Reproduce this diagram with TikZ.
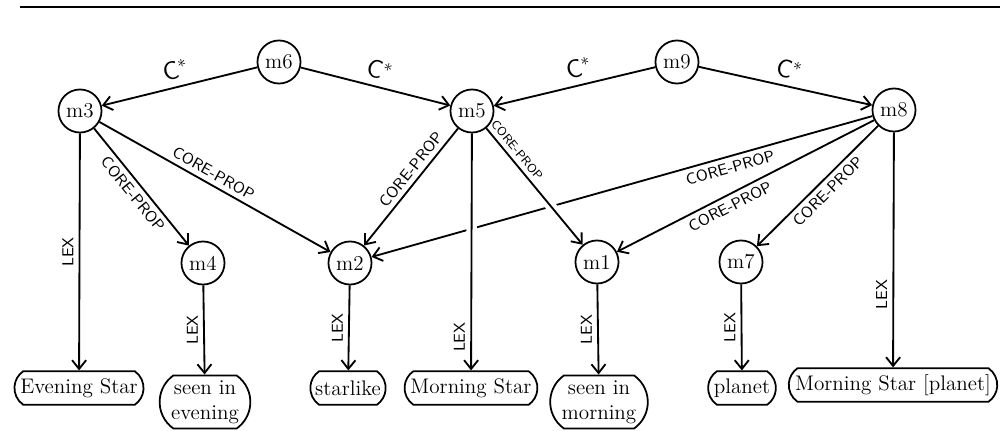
\documentclass[tikz,border=0pt]{standalone}
\usepackage{amsmath,amssymb}
\usetikzlibrary{arrows.meta,shapes.misc}

\begin{document}
\begin{tikzpicture}[x=0.2mm,y=-0.2mm,
mnode/.style={circle,draw,line width=1pt,minimum size=24.5pt,inner sep=1pt,font=\large},
lexbox/.style={rounded rectangle,rounded rectangle arc length=110,draw,line width=1pt,inner xsep=2pt,inner ysep=3pt,minimum height=19pt,font=\large,align=center},
link/.style={line width=1.05pt,-{Straight Barb[length=5pt,width=8pt]}},
rel/.style={font=\sffamily\small,sloped,inner sep=2.5pt},
lex/.style={font=\sffamily\small,rotate=90,anchor=south,inner sep=3pt},
cstar/.style={font=\sffamily\Large,sloped,above,inner sep=4pt},
crossover/.style={preaction={draw=white,-,line width=6pt,shorten <=5pt,shorten >=5pt}}]
\useasboundingbox (0,0) rectangle (1000,431);
\draw[line width=1.7pt] (20,7) -- (1000,7);
% concept nodes
\node[mnode] (m6) at (279,62) {m6};
\node[mnode] (m9) at (677,62) {m9};
\node[mnode] (m3) at (80,111) {m3};
\node[mnode] (m5) at (472,111) {m5};
\node[mnode] (m8) at (894,110) {m8};
\node[mnode] (m4) at (203,263) {m4};
\node[mnode] (m2) at (350,263) {m2};
\node[mnode] (m1) at (597,262) {m1};
\node[mnode] (m7) at (741,262) {m7};
% lexemes
\node[lexbox] (ev) at (79,388) {Evening Star};
\node[lexbox] (se) at (205,402) {seen in\\evening};
\node[lexbox] (st) at (348,388) {starlike};
\node[lexbox] (ms) at (471,388) {Morning Star};
\node[lexbox] (sm) at (599,402) {seen in\\morning};
\node[lexbox] (pl) at (742,388) {planet};
\node[lexbox] (mp) at (893,385) {Morning Star [planet]};
% C* arcs
\draw[link] (m6) -- node[cstar]{C$^*$} (m3);
\draw[link] (m6) -- node[cstar]{C$^*$} (m5);
\draw[link] (m9) -- node[cstar,pos=0.45]{C$^*$} (m5);
\draw[link] (m9) -- node[cstar]{C$^*$} (m8);
% core-prop arcs
\draw[link] (m8) -- node[rel,below,pos=0.29]{CORE-PROP} (m2);
\draw[link,crossover] (m5) -- node[lex,pos=0.86]{LEX} (ms);
\draw[link,crossover] (m5) -- node[rel,above,pos=0.24,font=\sffamily\scriptsize]{CORE-PROP} (m1);
\draw[link] (m3) -- node[rel,below,pos=0.5]{CORE-PROP} (m4);
\draw[link] (m3) -- node[rel,above,pos=0.47]{CORE-PROP} (m2);
\draw[link] (m5) -- node[rel,above,pos=0.41]{CORE-PROP} (m2);
\draw[link] (m8) -- node[rel,below,pos=0.58]{CORE-PROP} (m1);
\draw[link] (m8) -- node[rel,below,pos=0.48]{CORE-PROP} (m7);
% lex arcs
\draw[link] (m3) -- node[lex]{LEX} (ev);
\draw[link] (m4) -- node[lex]{LEX} (se);
\draw[link] (m2) -- node[lex]{LEX} (st);
\draw[link] (m1) -- node[lex]{LEX} (sm);
\draw[link] (m7) -- node[lex]{LEX} (pl);
\draw[link] (m8) -- node[lex,pos=0.69]{LEX} (mp);
\end{tikzpicture}
\end{document}
